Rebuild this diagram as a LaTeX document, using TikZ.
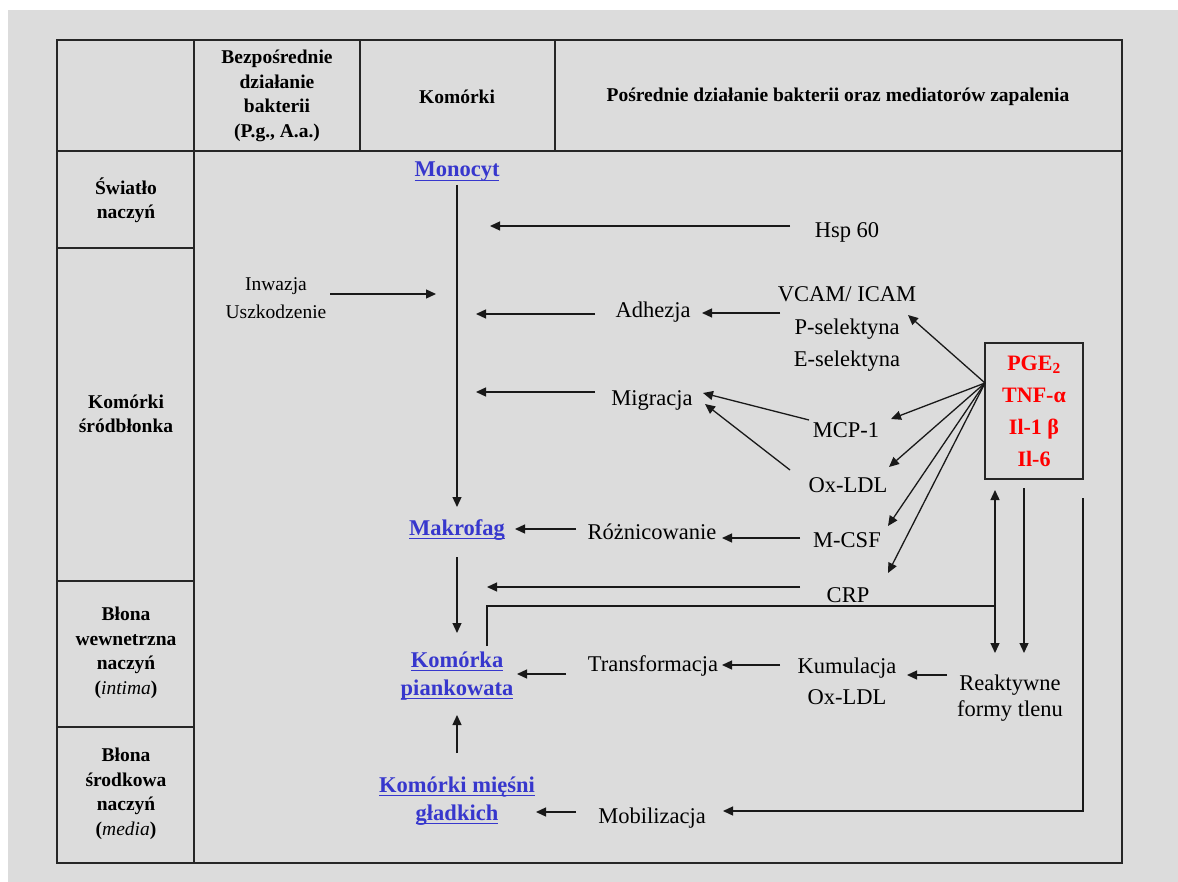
\documentclass[tikz,border=0pt]{standalone}
\usepackage{fontspec}
\setmainfont{Liberation Serif}
\usetikzlibrary{
  calc, % Versatz von Knoten
  arrows.meta % Pfeilspitzen
}
\definecolor{bggray}{RGB}{220,220,220}
\definecolor{linkblue}{RGB}{55,55,205}
% unterstrichener Link-Text
\newcommand\ulink[1]{\setbox0\hbox{#1}\rlap{\rule[-4pt]{\wd0}{1.2pt}}\box0}

\begin{document}
\begin{tikzpicture}[
    x=1pt, y=-1pt, % Pixel-Einheiten, y nach unten
    tab/.style={line width=1.8pt, black!85}, % Tabellenlinien
    lin/.style={line width=1.3pt, black!90},
    arr/.style={lin, -{Triangle[length=10pt, width=9pt]}}, % Pfeile
    txt/.style={font=\fontsize{22.5}{#1}\selectfont, align=center, inner sep=0pt},
    txt/.default=28,
    hdr/.style={font=\fontsize{19.5}{24.5}\selectfont\bfseries, align=center, inner sep=0pt},
    cellnode/.style={font=\fontsize{22.5}{28}\selectfont\bfseries, text=linkblue, align=center, inner sep=0pt},
    mediator/.style={draw, line width=1.5pt, black!85, text=red, font=\fontsize{22}{32}\selectfont\bfseries,
      align=center, minimum width=98pt, minimum height=136pt, inner sep=0pt},
  ]

    % Hintergrund
    \useasboundingbox (0,0) rectangle (1178,882);
    \fill[bggray] (8,10) rectangle (1178,882);

    % Tabelle
    \def\xl{57} \def\xa{194} \def\xb{360} \def\xc{555} \def\xr{1122}
    \def\yt{40} \def\yh{151} \def\yb{863}
    \draw[tab] (\xl,\yt) rectangle (\xr,\yb);
    \draw[tab] (\xl,\yh) -- (\xr,\yh);
    \draw[tab] (\xa,\yt) -- (\xa,\yb);
    \foreach \x in {\xb, \xc}
    \draw[tab] (\x,\yt) -- (\x,\yh);
    \foreach \y in {248, 581, 727}
    \draw[tab] (\xl,\y) -- (\xa,\y);

    % Kopfzeile
    \node[hdr] (hBezp) at (277,96) {Bezpośrednie\\działanie\\bakterii\\(P.g., A.a.)};
    \node[hdr] (hKom) at (457,97) {Komórki};
    \node[hdr] (hPosr) at (838,97) {Pośrednie działanie bakterii oraz mediatorów zapalenia};

    % linke Spalte
    \node[hdr] (rSwiatlo) at (126,200) {Światło\\naczyń};
    \node[hdr] (rSrodb) at (126,414) {Komórki\\śródbłonka};
    \node[hdr] (rIntima) at (126,653) {Błona\\wewnetrzna\\naczyń\\(\textnormal{\textit{intima}})};
    \node[hdr] (rMedia) at (126,794) {Błona\\środkowa\\naczyń\\(\textnormal{\textit{media}})};

    % Zellen
    \node[cellnode] (mono) at (457,172) {\ulink{Monocyt}};
    \node[cellnode] (makro) at (457,530) {\ulink{Makrofag}};
    \node[cellnode] (pian) at (457,676) {\ulink{Komórka}\\\ulink{piankowata}};
    \node[cellnode] (miesn) at (457,801) {\ulink{Komórki mięśni}\\\ulink{gładkich}};

    % Mediatoren und Prozesse
    \node[txt] (hsp) at (847,232) {Hsp 60};
    \node[txt, font=\fontsize{19.5}{28}\selectfont] (inw) at (276,298) {Inwazja\\Uszkodzenie};
    \node[txt] (adh) at (653,312) {Adhezja};
    \node[txt=32.5] (adhmol) at (847,329) {VCAM/ ICAM\\P-selektyna\\E-selektyna};
    \node[txt] (migr) at (652,400) {Migracja};
    \node[txt] (mcp) at (846,430) {MCP-1};
    \node[txt] (oxldl) at (848,485) {Ox-LDL};
    \node[txt] (rozn) at (652,532) {Różnicowanie};
    \node[txt] (mcsf) at (847,540) {M-CSF};
    \node[txt] (crp) at (848,595) {CRP};
    \node[txt] (transf) at (653,666) {Transformacja};
    \node[txt=31] (kumul) at (847,681) {Kumulacja\\Ox-LDL};
    \node[txt=26] (reakt) at (1010,698) {Reaktywne\\formy tlenu};
    \node[txt] (mobil) at (652,818) {Mobilizacja};
    \node[mediator] (med) at (1034,411) {PGE\textsubscript{2}\\TNF-α\\Il-1 β\\Il-6};

    % Pfeile zur Zellachse
    \draw[arr] ($(mono)+(0,13)$) -- ($(makro)+(0,-23)$);
    \draw[arr] ($(hsp)+(-57,-6)$) -- ++(-300,0);
    \draw[arr] ($(inw)+(54,-4)$) -- ++(106,0);
    \draw[arr] ($(adh)+(-58,2)$) -- ++(-119,0);
    \draw[arr] ($(migr)+(-57,-8)$) -- ++(-119,0);
    \draw[arr] ($(crp)+(-48,-8)$) -- ++(-313,0);

    \draw[arr] ($(adhmol)+(-67,-16)$) -- ($(adh)+(49,1)$);
    \draw[arr] ($(mcp)+(-37,-10)$) -- ($(migr)+(51,-7)$);
    \draw[arr] ($(oxldl)+(-58,-15)$) -- ($(migr)+(53,4)$);
    \draw[arr] ($(mcsf)+(-47,-2)$) -- ($(rozn)+(70,6)$);
    \draw[arr] ($(rozn)+(-76,-3)$) -- ($(makro)+(58,-1)$);
    \draw[arr] ($(makro)+(0,27)$) -- ($(pian)+(0,-43)$);

    % Faecher aus dem Mediatorkasten
    \coordinate (medpt) at ($(med)+(-49,-28)$);
    \foreach \n/\dx/\dy in {adhmol/61/-14, mcp/45/-11, oxldl/41/-18, mcsf/41/-14, crp/40/-22}
    \draw[arr] (medpt) -- ($(\n)+(\dx,\dy)$);

    % Rueckkopplung
    \coordinate (jn) at (995,606);
    \draw[lin] ($(pian)+(30,-30)$) |- (jn);
    \draw[arr] (jn) -- ($(med)+(-39,79)$);
    \draw[arr] (jn) -- ($(reakt)+(-15,-45)$);
    \draw[arr] ($(med)+(-10,77)$) -- ($(reakt)+(14,-45)$);
    \draw[arr] ($(med)+(49,87)$) |- ($(mobil)+(71,-7)$);

    \draw[arr] ($(reakt)+(-63,-23)$) -- ($(kumul)+(60,-6)$);
    \draw[arr] ($(kumul)+(-67,-16)$) -- ($(transf)+(69,-1)$);
    \draw[arr] ($(transf)+(-87,8)$) -- ($(pian)+(60,-2)$);
    \draw[arr] ($(mobil)+(-76,-6)$) -- ($(miesn)+(79,11)$);
    \draw[arr] ($(miesn)+(0,-48)$) -- ($(pian)+(0,39)$);

  \end{tikzpicture}
\end{document}
